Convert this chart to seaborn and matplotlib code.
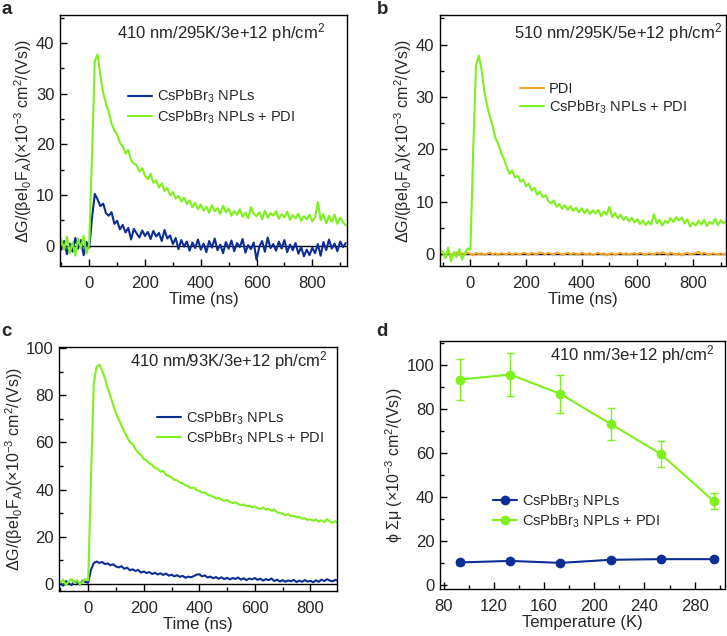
import numpy as np
import pandas as pd
import matplotlib
matplotlib.use("Agg")
import matplotlib.pyplot as plt
from matplotlib.ticker import MultipleLocator
import seaborn as sns

# ---- data ----
# panels a and b: time axis -100 .. 920 ns, 10 ns steps
t_ab = np.arange(-100, 921, 10)
# panel c: -100 .. 900 ns
t_c = np.arange(-100, 901, 10)

a_npl = [
    -0.8, 0.9, -1.7, 0.4, -1.2, 1.5, -0.6, 1.1, -1.9, 0.7,
    -0.4, 5.5, 10.2, 9.1, 7.8, 8.3, 6.4, 5.9, 6.6, 4.3,
    4.9, 3.2, 4.1, 2.6, 3.5, 1.2, 3.3, 2.4, 1.6, 3.0,
    1.9, 2.7, 1.3, 2.9, 1.8, 2.5, 0.9, 3.1, 1.4, 2.0,
    0.3, 1.5, -0.7, 1.1, -0.2, 0.8, -1.0, 0.6, -0.5, 1.2,
    -0.8, 0.4, -1.3, 0.9, -0.4, 1.4, -0.9, 0.2, -1.5, 0.7,
    -0.6, 1.0, -1.1, 0.5, -0.3, 1.3, -1.4, 0.1, -0.7, 0.6,
    -2.8, -0.2, 0.9, -1.2, 1.6, -0.5, 0.3, -1.0, 0.8, -0.6,
    1.1, -1.3, 0.2, -0.9, 0.5, -1.6, -0.3, -2.1, -0.8, -1.9,
    -0.4, -1.5, 0.3, -2.0, 0.7, -0.9, 1.2, -0.6, 0.4, -1.1,
    0.8, -0.3, 0.5,
]
a_pdi = [
    1.2, -0.8, 1.8, -1.5, 0.6, -2.0, 1.4, -0.5, 1.9, -1.6,
    0.3, 18.0, 36.5, 37.8, 33.5, 30.2, 28.0, 26.4, 24.1, 22.8,
    21.9, 20.3, 19.6, 18.2, 18.9, 16.8, 16.2, 15.9, 14.6, 15.3,
    13.8, 13.1, 14.2, 12.4, 12.9, 11.5, 12.3, 10.8, 11.4, 9.9,
    10.6, 9.3, 9.8, 8.7, 9.5, 8.2, 8.9, 7.6, 8.4, 7.2,
    8.1, 6.9, 7.7, 6.5, 8.0, 6.8, 7.4, 6.2, 7.9, 6.6,
    7.3, 5.9, 6.8, 6.1, 7.2, 5.7, 6.5, 5.4, 7.6, 6.3,
    5.8, 6.6, 5.2, 6.9, 5.5, 6.4, 5.9, 6.8, 5.3, 6.2,
    5.6, 6.7, 5.1, 6.0, 5.4, 6.3, 4.9, 5.8, 5.2, 6.1,
    4.8, 5.6, 8.6, 5.0, 6.2, 4.4, 5.9, 4.7, 6.1, 4.3,
    5.5, 4.6, 4.0,
]
b_pdi_only = [
    0.1, -0.2, 0.2, -0.1, 0.0, 0.3, -0.2, 0.1, -0.1, 0.2,
    0.0, -0.3, 0.2, -0.1, 0.1, -0.2, 0.0, 0.2, -0.1, 0.1,
    -0.2, 0.1, 0.0, -0.1, 0.2, -0.2, 0.1, 0.0, -0.1, 0.2,
    0.1, -0.2, 0.2, 0.0, -0.1, 0.3, 0.1, -0.1, 0.2, 0.0,
    -0.1, 0.2, 0.1, -0.2, 0.0, 0.2, -0.1, 0.1, 0.0, -0.2,
    0.2, 0.0, -0.1, 0.1, -0.2, 0.0, 0.2, -0.1, 0.1, -0.3,
    0.0, 0.1, -0.2, 0.0, 0.2, -0.1, 0.1, -0.2, 0.0, 0.1,
    -0.1, 0.2, 0.0, -0.2, 0.1, 0.0, -0.1, 0.2, 0.0, 0.3,
    0.1, -0.2, 0.2, 0.0, -0.1, 0.1, -0.3, 0.0, 0.2, -0.1,
    0.0, 0.1, 0.4, -0.1, 0.2, 0.0, -0.2, 0.1, 0.0, -0.1,
    0.1, -0.1, 0.0,
]
b_pdi = [
    0.5, -0.9, 1.2, -1.4, 0.3, -0.6, 0.9, -1.1, 0.2, 1.0,
    0.8, 20.0, 36.0, 37.9, 35.2, 31.0, 28.4, 26.2, 24.5, 22.1,
    21.0, 19.4, 18.2, 16.7, 15.3, 15.9, 14.6, 14.9, 13.8, 14.2,
    12.9, 13.4, 12.1, 12.6, 11.3, 11.9, 10.8, 11.2, 10.1, 9.6,
    10.2, 9.0, 9.5, 8.6, 9.3, 8.4, 9.1, 8.2, 8.8, 7.9,
    8.7, 7.8, 8.5, 7.6, 8.3, 7.7, 8.4, 7.2, 8.1, 7.5,
    9.0, 7.0, 7.8, 6.8, 7.5, 6.5, 7.1, 6.2, 6.9, 6.0,
    6.6, 5.7, 6.4, 5.5, 6.2, 5.6, 7.6, 5.8, 6.5, 5.4,
    6.3, 5.9, 6.8, 6.1, 7.0, 6.4, 6.9, 5.8, 6.6, 5.2,
    6.0, 5.4, 6.3, 5.6, 6.5, 5.3, 6.1, 5.7, 6.7, 5.5,
    6.4, 5.8, 6.2,
]
c_npl = [
    0.4, -0.8, 1.2, 0.2, -0.5, 1.0, 0.6, -0.3, 1.4, 0.8,
    0.5, 6.0, 8.8, 9.5, 8.9, 9.3, 8.4, 8.7, 7.9, 8.3,
    7.4, 7.0, 7.5, 6.4, 6.9, 5.8, 6.2, 5.5, 5.9, 4.8,
    5.3, 4.6, 5.0, 4.2, 4.7, 4.0, 4.5, 3.8, 4.4, 3.5,
    3.9, 3.2, 3.7, 3.0, 3.4, 2.6, 3.1, 2.8, 3.3, 3.9,
    4.1, 3.2, 3.6, 2.7, 3.1, 2.4, 2.9, 2.2, 2.8, 2.0,
    2.6, 1.9, 2.5, 2.1, 2.7, 1.8, 2.4, 1.6, 2.3, 1.9,
    2.5, 1.7, 2.2, 1.4, 2.0, 1.6, 2.3, 1.2, 1.8, 1.0,
    1.6, 0.9, 1.5, 1.1, 1.7, 0.8, 1.4, 0.9, 1.6, 1.0,
    1.3, 0.7, 1.5, 0.9, 1.8, 1.2, 2.0, 1.4, 1.1, 1.7,
    1.3,
]
c_pdi = [
    0.5, 1.8, -0.6, 1.2, 2.1, 0.4, 1.6, -0.2, 1.0, 2.0,
    1.5, 45.0, 85.0, 92.0, 93.0, 90.5, 87.4, 83.1, 79.6, 75.8,
    72.4, 69.7, 67.2, 64.6, 62.3, 60.1, 59.4, 57.2, 55.6, 54.8,
    53.0, 52.4, 51.1, 50.5, 49.2, 48.8, 47.6, 47.9, 46.3, 45.8,
    45.1, 44.2, 43.9, 43.0, 42.6, 41.8, 41.5, 40.6, 40.9, 39.8,
    39.5, 38.6, 38.9, 37.8, 37.4, 37.0, 36.2, 36.5, 35.7, 35.3,
    35.6, 34.8, 34.3, 34.6, 33.9, 33.4, 33.7, 32.9, 33.2, 32.5,
    32.8, 32.1, 31.8, 32.4, 31.5, 31.9, 31.0, 31.6, 30.4, 30.1,
    29.8, 29.2, 29.6, 28.7, 28.9, 28.2, 28.5, 27.6, 27.9, 27.1,
    27.4, 26.8, 27.3, 26.5, 27.0, 26.2, 27.5, 26.4, 25.9, 26.6,
    25.8,
]

# panel d: temperature series
temps = [93, 133, 173, 213, 253, 295]
d_npl = [10.1, 10.8, 9.9, 11.3, 11.6, 11.6]
d_npl_err = [1.0, 1.0, 1.0, 1.0, 1.0, 1.0]
d_pdi = [93.4, 95.7, 86.9, 73.2, 59.5, 38.1]
d_pdi_err = [9.3, 9.6, 8.6, 7.4, 5.9, 3.8]

lab_npl = "CsPbBr$_3$ NPLs"
lab_pdi = "CsPbBr$_3$ NPLs + PDI"
lab_pdi_only = "PDI"

blue = "#0c2d94"
green = "#7ef01e"
orange = "#f5a628"

sns.set_style("ticks")
plt.rcParams["font.family"] = ["Liberation Sans", "DejaVu Sans"]
plt.rcParams["mathtext.fontset"] = "custom"
plt.rcParams["mathtext.rm"] = "Liberation Sans"
plt.rcParams["mathtext.it"] = "Liberation Sans:italic"
plt.rcParams["axes.linewidth"] = 1.0

ylab_trace = "ΔG/(βeI$_0$F$_\\mathrm{A}$)(×10$^{-3}$ cm$^2$/(Vs))"

TICK = 12
LAB = 12
ANN = 12
LEG = 10.5

fig = plt.figure(figsize=(7.27, 6.36), dpi=100)
ax_a = fig.add_axes([0.0825, 0.582, 0.395, 0.394])
ax_b = fig.add_axes([0.605, 0.582, 0.394, 0.394])
ax_c = fig.add_axes([0.0816, 0.0708, 0.382, 0.3836])
ax_d = fig.add_axes([0.605, 0.0739, 0.392, 0.39])


def style(ax, xmaj, xmin, ymaj, ymin):
    ax.xaxis.set_major_locator(MultipleLocator(xmaj))
    ax.xaxis.set_minor_locator(MultipleLocator(xmin))
    ax.yaxis.set_major_locator(MultipleLocator(ymaj))
    ax.yaxis.set_minor_locator(MultipleLocator(ymin))
    ax.tick_params(which="both", direction="in", top=False, right=False,
                   labelsize=TICK, width=1.0, color="k")
    ax.tick_params(axis="x", which="both", pad=7)
    ax.tick_params(axis="y", which="both", pad=4)
    ax.tick_params(which="major", length=5)
    ax.tick_params(which="minor", length=3)
    for s in ax.spines.values():
        s.set_visible(True)
        s.set_color("k")


def trace(ax, t, y, color, label):
    df = pd.DataFrame({"t": t, "y": y})
    sns.lineplot(data=df, x="t", y="y", ax=ax, color=color, lw=1.5,
                 label=label, sort=False, estimator=None)


def legend(ax, anchor):
    ax.legend(loc="upper left", bbox_to_anchor=anchor, frameon=False,
              fontsize=LEG, handlelength=1.65, handletextpad=0.35,
              labelspacing=0.2, borderpad=0, borderaxespad=0)


# panel a
ax_a.axhline(0, color="k", lw=1.0, zorder=1)
trace(ax_a, t_ab, a_npl, blue, lab_npl)
trace(ax_a, t_ab, a_pdi, green, lab_pdi)
ax_a.set_xlim(-105, 925)
ax_a.set_ylim(-4, 45.5)
style(ax_a, 200, 100, 10, 5)
ax_a.text(0.923, 0.93, "410 nm/295K/3e+12 ph/cm$^2$", transform=ax_a.transAxes,
          ha="right", va="center", fontsize=ANN)
legend(ax_a, (0.237, 0.71))

# panel b
ax_b.axhline(0, color="k", lw=1.0, zorder=1)
trace(ax_b, t_ab, b_pdi_only, orange, lab_pdi_only)
trace(ax_b, t_ab, b_pdi, green, lab_pdi)
ax_b.set_xlim(-110, 920)
ax_b.set_ylim(-2.3, 45.6)
style(ax_b, 200, 100, 10, 5)
ax_b.text(0.986, 0.93, "510 nm/295K/5e+12 ph/cm$^2$", transform=ax_b.transAxes,
          ha="right", va="center", fontsize=ANN)
legend(ax_b, (0.279, 0.735))

# panel c
ax_c.axhline(0, color="k", lw=1.0, zorder=1)
trace(ax_c, t_c, c_npl, blue, lab_npl)
trace(ax_c, t_c, c_pdi, green, lab_pdi)
ax_c.set_xlim(-104, 896)
ax_c.set_ylim(-3, 100.5)
style(ax_c, 200, 100, 20, 10)
ax_c.text(0.968, 0.944, "410 nm/93K/3e+12 ph/cm$^2$", transform=ax_c.transAxes,
          ha="right", va="center", fontsize=ANN)
legend(ax_c, (0.352, 0.745))

for ax in (ax_a, ax_b, ax_c):
    ax.set_xlabel("Time (ns)", fontsize=LAB, labelpad=1)
    ax.set_ylabel(ylab_trace, fontsize=11.5, labelpad=1)

# panel d
for y, e, c, lab in ((d_npl, d_npl_err, blue, lab_npl), (d_pdi, d_pdi_err, green, lab_pdi)):
    ax_d.errorbar(temps, y, yerr=e, fmt="none", ecolor=c, elinewidth=1.0,
                  capsize=3, capthick=1.0, zorder=2)
    df = pd.DataFrame({"T": temps, "v": y})
    sns.lineplot(data=df, x="T", y="v", ax=ax_d, color=c, lw=1.5, marker="o",
                 markersize=7, markeredgewidth=0, label=lab, zorder=3)
ax_d.set_xlim(77, 304)
ax_d.set_ylim(-2, 111)
style(ax_d, 40, 20, 20, 10)
ax_d.text(0.965, 0.945, "410 nm/3e+12 ph/cm$^2$", transform=ax_d.transAxes,
          ha="right", va="center", fontsize=ANN)
legend(ax_d, (0.186, 0.39))
ax_d.set_xlabel("Temperature (K)", fontsize=LAB, labelpad=1)
ax_d.set_ylabel("ϕ Σμ (×10$^{-3}$ cm$^2$/(Vs))", fontsize=11.5, labelpad=1)

# panel letters
for x, y, s in ((0.002, 0.998, "a"), (0.518, 0.998, "b"),
                (0.002, 0.492, "c"), (0.518, 0.492, "d")):
    fig.text(x, y, s, ha="left", va="top", fontsize=13.5, fontweight="bold")

fig.savefig("out.png", dpi=100)
